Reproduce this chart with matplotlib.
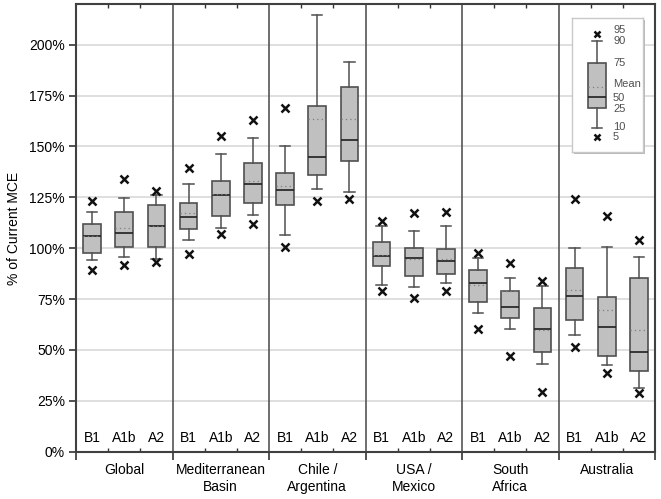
import matplotlib
matplotlib.use('Agg')
import matplotlib.pyplot as plt
import numpy as np
from matplotlib.transforms import blended_transform_factory
from matplotlib.patches import Rectangle

plt.rcParams['font.family'] = ['Liberation Sans', 'DejaVu Sans']

regions = ['Global', 'Mediterranean\nBasin', 'Chile /\nArgentina', 'USA /\nMexico',
           'South\nAfrica', 'Australia']
scenarios = ['B1', 'A1b', 'A2']
yticks = [0, 25, 50, 75, 100, 125, 150, 175, 200]

# percentiles (% of current MCE), order: region x (B1, A1b, A2)
p5 = [89.4, 91.8, 93.2, 97.1, 106.9, 111.9, 100.8, 123.2, 124.3,
      79.2, 75.7, 78.9, 60.4, 47.2, 29.5, 51.4, 38.6, 28.7]
p10 = [94.3, 95.9, 94.6, 103.8, 109.9, 116.4, 106.4, 128.9, 127.4,
       82.0, 81.0, 83.0, 68.4, 60.2, 43.1, 57.4, 42.6, 31.2]
p25 = [97.6, 100.5, 100.5, 109.5, 115.8, 122.2, 121.0, 136.0, 143.0,
       91.3, 86.3, 87.3, 73.8, 65.9, 49.0, 64.6, 47.1, 39.8]
p50 = [105.8, 107.4, 110.7, 115.4, 126.3, 131.7, 128.6, 145.0, 153.3,
       96.1, 95.1, 93.8, 83.1, 71.0, 60.4, 76.6, 61.5, 48.9]
means = [106.0, 109.7, 111.0, 117.3, 126.6, 133.0, 130.7, 163.5, 163.5,
         96.5, 94.8, 94.6, 82.0, 78.8, 60.0, 79.4, 69.4, 59.7]
p75 = [112.0, 117.9, 121.0, 122.2, 133.0, 141.9, 136.8, 169.7, 179.4,
       103.0, 100.0, 99.7, 89.2, 79.0, 70.5, 90.4, 76.2, 85.6]
p90 = [117.6, 124.6, 126.3, 131.7, 146.1, 154.2, 150.2, 214.7, 191.5,
       110.7, 108.4, 110.7, 95.1, 85.6, 81.2, 100.2, 100.5, 95.9]
p95 = [123.3, 134.0, 127.9, 139.4, 154.9, 163.2, 168.7, np.nan, np.nan,
       113.5, 117.3, 117.8, 97.6, 92.7, 84.1, 124.3, 115.6, 103.8]

# schematic legend example (in legend units)
legend_labels = ['95', '90', '75', 'Mean', '50', '25', '10', '5']
legend_example = dict(p5=15.3, p10=23.7, p25=44.0, p50=54.7, mean=64.7,
                      p75=89.3, p90=111.0, p95=118.0)

W, H = 661, 499
fig = plt.figure(figsize=(W / 100, H / 100), dpi=100)
L, R, T, B = 76, 655, 4, 451.7
ax = fig.add_axes([L / W, 1 - B / H, (R - L) / W, (B - T) / H])

box_face = '#c0c0c0'
edge = '#505050'

stats = []
for i in range(len(p50)):
    fl = [v for v in (p5[i], p95[i]) if not np.isnan(v)]
    stats.append(dict(med=p50[i], q1=p25[i], q3=p75[i], whislo=p10[i], whishi=p90[i],
                      mean=means[i], fliers=np.array(fl)))
positions = np.arange(len(p50)) + 0.5

ax.bxp(stats, positions=positions, widths=0.55, showmeans=True, meanline=True,
       patch_artist=True, manage_ticks=False,
       boxprops=dict(facecolor=box_face, edgecolor=edge, linewidth=1.2),
       medianprops=dict(color='#202020', linewidth=1.2),
       meanprops=dict(color='#808080', linestyle=(0, (1, 2.5)), linewidth=0.9),
       whiskerprops=dict(color=edge, linewidth=1.1),
       capprops=dict(color=edge, linewidth=1.1),
       capwidths=0.32,
       flierprops=dict(marker='x', markersize=5.5, markeredgewidth=1.8,
                       markeredgecolor='#111111', linestyle='none'))

ax.set_xlim(0, len(p50))
ax.set_ylim(0, 220)
ax.set_yticks(yticks)
ax.set_yticklabels([f'{v}%' for v in yticks], fontsize=10)
for v in yticks[1:]:
    ax.axhline(v, color='#d9d9d9', lw=1.2, zorder=0)
ngroups = len(regions)
for g in range(1, ngroups):
    ax.axvline(3 * g, color='#555555', lw=1.2, zorder=1)

ax.set_xticks(np.arange(0, 3 * ngroups + 1, 3))
ax.set_xticklabels([])
ax.set_xticks([k for k in range(3 * ngroups) if k % 3 != 0], minor=True)
ax.tick_params(axis='x', which='major', direction='out', length=6, width=1.2, color='#333333')
ax.tick_params(axis='x', which='minor', direction='in', length=3, width=1, color='#333333',
               top=True, bottom=True)
ax.tick_params(axis='y', direction='out', length=5, width=1.2, color='#333333', pad=3)
for s in ax.spines.values():
    s.set_color('#404040')
    s.set_linewidth(1.5)

trans = blended_transform_factory(ax.transData, ax.transAxes)
for g in range(ngroups):
    for j, sc in enumerate(scenarios):
        ax.text(3 * g + j + 0.5, (B - 438) / (B - T), sc, transform=trans,
                ha='center', va='center', fontsize=10)
    ax.text(3 * g + 1.5, -(463 - B) / (B - T), regions[g], transform=trans,
            ha='center', va='top', fontsize=10, linespacing=1.3)

fig.text(14 / W, 1 - 228 / H, '% of Current MCE', rotation=90, ha='center', va='center',
         fontsize=10)

# legend
lx0, ly0, lx1, ly1 = 572, 18, 643, 152
fig.patches.append(Rectangle(((lx0 + 2) / W, 1 - (ly1 + 2) / H), (lx1 - lx0) / W,
                             (ly1 - ly0) / H, transform=fig.transFigure,
                             facecolor='#b8b8b8', edgecolor='none', zorder=5))
lax = fig.add_axes([lx0 / W, 1 - ly1 / H, (lx1 - lx0) / W, (ly1 - ly0) / H], zorder=6)
lax.set_xlim(0, lx1 - lx0)
lax.set_ylim(0, ly1 - ly0)
lax.set_xticks([])
lax.set_yticks([])
for s in lax.spines.values():
    s.set_color('#c8c8c8')
    s.set_linewidth(1)
le = legend_example
lax.bxp([dict(med=le['p50'], q1=le['p25'], q3=le['p75'], whislo=le['p10'],
              whishi=le['p90'], mean=le['mean'], fliers=np.array([le['p5'], le['p95']]))],
        positions=[24.7], widths=18, showmeans=True, meanline=True, patch_artist=True,
        manage_ticks=False,
        boxprops=dict(facecolor=box_face, edgecolor=edge, linewidth=1.2),
        medianprops=dict(color='#202020', linewidth=1.2),
        meanprops=dict(color='#808080', linestyle=(0, (1, 2.5)), linewidth=0.9),
        whiskerprops=dict(color=edge, linewidth=1.1),
        capprops=dict(color=edge, linewidth=1.1), capwidths=10,
        flierprops=dict(marker='x', markersize=5, markeredgewidth=1.8,
                        markeredgecolor='#111111', linestyle='none'))
label_vals = [le['p95'] + 4, le['p90'], le['p75'], le['mean'] + 3, le['p50'] - 1,
              le['p25'] - 1.3, le['p10'] + 1, le['p5'] - 0.6]
for lab, v in zip(legend_labels, label_vals):
    lax.text(41, v, lab, ha='left', va='center', fontsize=8, color='#505050')

fig.savefig('out.png', dpi=100)
